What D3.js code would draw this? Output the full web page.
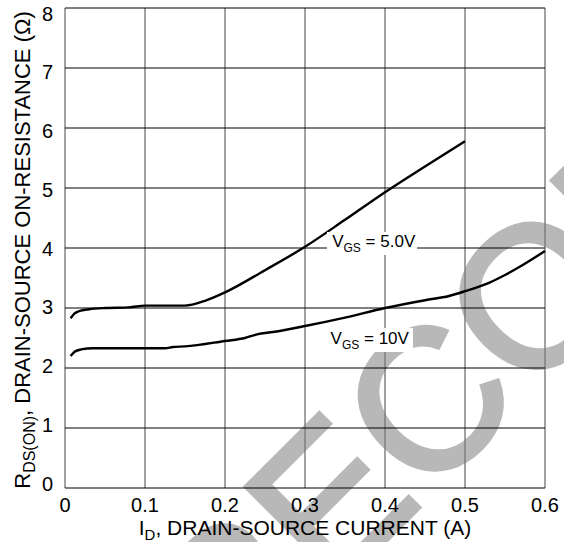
<!DOCTYPE html>
<html>
<head>
<meta charset="utf-8">
<script src="https://cdn.jsdelivr.net/npm/d3@7"></script>
<style>
  html, body { margin: 0; padding: 0; background: #fff; }
  svg { display: block; font-family: "Liberation Sans", Arial, sans-serif; }
</style>
</head>
<body>
<svg id="chart" width="564" height="542"></svg>
<script>
// ---- data ----
const xTicks = [0, 0.1, 0.2, 0.3, 0.4, 0.5, 0.6];
const xTickLabels = ["0", "0.1", "0.2", "0.3", "0.4", "0.5", "0.6"];
const yTicks = [0, 1, 2, 3, 4, 5, 6, 7, 8];
const yTickLabels = ["0", "1", "2", "3", "4", "5", "6", "7", "8"];

const vgs5Current = [0.007, 0.012, 0.018, 0.03, 0.05, 0.08, 0.10, 0.15, 0.175, 0.20, 0.25, 0.30, 0.35, 0.40, 0.45, 0.50];
const vgs5Resist  = [2.83, 2.91, 2.95, 2.98, 3.00, 3.01, 3.04, 3.04, 3.12, 3.26, 3.63, 4.02, 4.47, 4.93, 5.36, 5.78];

const vgs10Current = [0.007, 0.012, 0.02, 0.035, 0.08, 0.125, 0.135, 0.15, 0.20, 0.225, 0.24, 0.26, 0.30, 0.35, 0.40, 0.45, 0.48, 0.50, 0.53, 0.55, 0.57, 0.60];
const vgs10Resist  = [2.20, 2.27, 2.31, 2.33, 2.33, 2.33, 2.35, 2.36, 2.45, 2.50, 2.56, 2.60, 2.70, 2.84, 3.00, 3.13, 3.20, 3.28, 3.42, 3.55, 3.70, 3.95];

const seriesLabels = ["5.0V", "10V"];
const xTitle = ["I", "D", ", DRAIN-SOURCE CURRENT (A)"];
const yTitle = ["R", "DS(ON)", ", DRAIN-SOURCE ON-RESISTANCE (Ω)"];
const watermarkText = "RECOMMENDED";

// ---- layout ----
const svg = d3.select("#chart");
const plot = { left: 65, right: 545, top: 8, bottom: 488 };

const x = d3.scaleLinear().domain([0, 0.6]).range([plot.left, plot.right]);
const y = d3.scaleLinear().domain([0, 8]).range([plot.bottom, plot.top]);
const yLab = d3.scaleLinear().domain([0, 8]).range([483.5, 13.5]);

// watermark (behind everything), clipped to the page
svg.append("clipPath").attr("id", "page").append("rect")
  .attr("x", 0).attr("y", 0).attr("width", 564).attr("height", 542);
svg.append("g").attr("clip-path", "url(#page)").append("text")
  .attr("transform", "translate(229,698) rotate(-45)")
  .attr("font-size", 200)
  .attr("fill", "#b8b8b8")
  .attr("stroke", "#b8b8b8")
  .attr("stroke-width", 4)
  .text(watermarkText);

// grid: vertical (gray)
const g = svg.append("g");
g.selectAll("line.v").data(xTicks).join("line")
  .attr("x1", d => x(d)).attr("x2", d => x(d))
  .attr("y1", y(8)).attr("y2", y(0))
  .attr("stroke", "#7a7a7a").attr("stroke-width", 1.4);
// grid: horizontal (black)
g.selectAll("line.h").data(yTicks).join("line")
  .attr("x1", x(0)).attr("x2", x(0.6))
  .attr("y1", d => y(d)).attr("y2", d => y(d))
  .attr("stroke", "#000").attr("stroke-width", 1);

// curves
const line = d3.line().x(d => x(d[0])).y(d => y(d[1])).curve(d3.curveMonotoneX);
const s5 = vgs5Current.map((v, i) => [v, vgs5Resist[i]]);
const s10 = vgs10Current.map((v, i) => [v, vgs10Resist[i]]);
[s5, s10].forEach(s => {
  svg.append("path").datum(s).attr("d", line)
    .attr("fill", "none").attr("stroke", "#000").attr("stroke-width", 2.4)
    .attr("stroke-linejoin", "round");
});

// annotations with white background
function annot(cx, cy, label, box) {
  const grp = svg.append("g");
  grp.append("rect").attr("x", box[0]).attr("y", box[1]).attr("width", box[2]).attr("height", box[3]).attr("fill", "#fff");
  const t = grp.append("text").attr("x", cx).attr("y", cy).attr("font-size", 17).attr("fill", "#000");
  t.append("tspan").text("V");
  t.append("tspan").attr("font-size", 12).attr("dy", 5).text("GS");
  t.append("tspan").attr("dy", -5).text(" = " + label);
}
annot(x(0.334), 246.5, seriesLabels[0], [327, 232, 90, 23]);
annot(x(0.332), 344, seriesLabels[1], [323, 328, 90, 24]);

// axis tick labels
svg.append("g").selectAll("text").data(xTicks).join("text")
  .attr("x", d => x(d)).attr("y", 512)
  .attr("text-anchor", "middle").attr("font-size", 20)
  .text((d, i) => xTickLabels[i]);
svg.append("g").selectAll("text").data(yTicks).join("text")
  .attr("x", 53).attr("y", d => yLab(d)).attr("dy", "0.36em")
  .attr("text-anchor", "end").attr("font-size", 20)
  .text((d, i) => yTickLabels[i]);

// axis titles
const xt = svg.append("text").attr("x", (plot.left + plot.right) / 2).attr("y", 535)
  .attr("text-anchor", "middle").attr("font-size", 21);
xt.append("tspan").text(xTitle[0]);
xt.append("tspan").attr("font-size", 15).attr("dy", 5).text(xTitle[1]);
xt.append("tspan").attr("dy", -5).text(xTitle[2]);

const yt = svg.append("text")
  .attr("transform", `translate(30,${(plot.top + plot.bottom) / 2 + 2}) rotate(-90)`)
  .attr("text-anchor", "middle").attr("font-size", 22);
yt.append("tspan").text(yTitle[0]);
yt.append("tspan").attr("font-size", 16).attr("dy", 5).text(yTitle[1]);
yt.append("tspan").attr("dy", -5).text(yTitle[2]);
</script>
</body>
</html>
